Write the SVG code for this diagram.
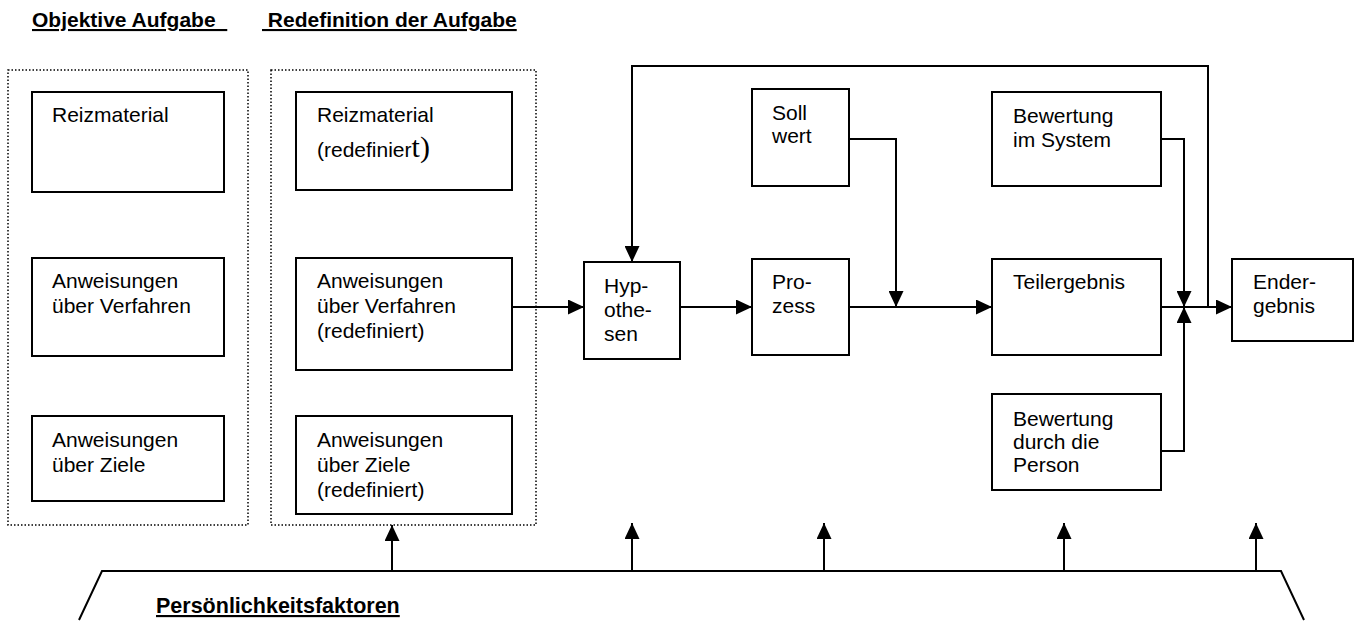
<svg xmlns="http://www.w3.org/2000/svg" width="1360" height="625" viewBox="0 0 1360 625">
<defs>
<style>
.box{fill:#fff;stroke:#000;stroke-width:2}
.dot{fill:none;stroke:#000;stroke-width:1.5;stroke-dasharray:1.5 2}
.ln{fill:none;stroke:#000;stroke-width:2}
.t{font-family:"Liberation Sans",Arial,sans-serif;font-size:21px;fill:#000}
.h{font-family:"Liberation Sans",Arial,sans-serif;font-size:21px;font-weight:bold;fill:#000;text-decoration:underline;white-space:pre}
.ser{font-family:"Liberation Serif","Times New Roman",serif;font-size:30px}
</style>
<marker id="ar" markerUnits="userSpaceOnUse" markerWidth="16" markerHeight="15" refX="16" refY="7.5" orient="auto">
<path d="M0,0 L16,7.5 L0,15 z" fill="#000"/>
</marker>
</defs>
<rect width="1360" height="625" fill="#fff"/>

<g id="headers">
<text class="h" x="32" y="27">Objektive Aufgabe  </text>
<text class="h" x="262" y="27"> Redefinition der Aufgabe</text>
</g>

<g id="group-objektiv">
<rect class="dot" x="8" y="70" width="240" height="455"/>
</g>
<g id="group-redef">
<rect class="dot" x="271" y="70" width="265" height="455"/>
</g>

<g id="n-reiz1"><rect class="box" x="32" y="92" width="192" height="100"/>
<text class="t" x="52" y="122">Reizmaterial</text></g>
<g id="n-verf1"><rect class="box" x="32" y="258" width="192" height="98"/>
<text class="t" x="52" y="288">Anweisungen</text><text class="t" x="52" y="313">über Verfahren</text></g>
<g id="n-ziele1"><rect class="box" x="32" y="416" width="192" height="85"/>
<text class="t" x="52" y="447">Anweisungen</text><text class="t" x="52" y="472">über Ziele</text></g>

<g id="n-reiz2"><rect class="box" x="296" y="92" width="216" height="98"/>
<text class="t" x="317" y="122">Reizmaterial</text>
<text class="t" x="317" y="157">(redefinier<tspan class="ser">t)</tspan></text></g>
<g id="n-verf2"><rect class="box" x="296" y="258" width="216" height="112"/>
<text class="t" x="317" y="288">Anweisungen</text><text class="t" x="317" y="313">über Verfahren</text><text class="t" x="317" y="338">(redefiniert)</text></g>
<g id="n-ziele2"><rect class="box" x="296" y="416" width="216" height="98"/>
<text class="t" x="317" y="447">Anweisungen</text><text class="t" x="317" y="472">über Ziele</text><text class="t" x="317" y="497">(redefiniert)</text></g>

<g id="n-hyp"><rect class="box" x="584" y="262" width="96" height="97"/>
<text class="t" x="604" y="293">Hyp-</text><text class="t" x="604" y="317">othe-</text><text class="t" x="604" y="341">sen</text></g>
<g id="n-soll"><rect class="box" x="752" y="89" width="97" height="97"/>
<text class="t" x="772" y="120">Soll</text><text class="t" x="772" y="143">wert</text></g>
<g id="n-proz"><rect class="box" x="752" y="259" width="97" height="96"/>
<text class="t" x="772" y="289">Pro-</text><text class="t" x="772" y="313">zess</text></g>
<g id="n-bis"><rect class="box" x="992" y="92" width="169" height="94"/>
<text class="t" x="1013" y="123">Bewertung</text><text class="t" x="1013" y="147">im System</text></g>
<g id="n-teil"><rect class="box" x="992" y="259" width="169" height="96"/>
<text class="t" x="1013" y="289">Teilergebnis</text></g>
<g id="n-bdp"><rect class="box" x="992" y="394" width="169" height="96"/>
<text class="t" x="1013" y="426">Bewertung</text><text class="t" x="1013" y="449">durch die</text><text class="t" x="1013" y="472">Person</text></g>
<g id="n-ende"><rect class="box" x="1232" y="259" width="121" height="82"/>
<text class="t" x="1253" y="289">Ender-</text><text class="t" x="1253" y="313">gebnis</text></g>

<g id="n-pers">
<text class="h" x="156" y="613" style="font-size:21.5px">Persönlichkeitsfaktoren</text>
</g>

<g id="connectors">
<path class="ln" d="M512,307 H584" marker-end="url(#ar)"/>
<path class="ln" d="M680,307 H752" marker-end="url(#ar)"/>
<path class="ln" d="M849,307 H992" marker-end="url(#ar)"/>
<path class="ln" d="M849,139 H896 V307" marker-end="url(#ar)"/>
<path class="ln" d="M1161,307 H1232" marker-end="url(#ar)"/>
<path class="ln" d="M1161,139 H1184 V307" marker-end="url(#ar)"/>
<path class="ln" d="M1161,451 H1184 V307" marker-end="url(#ar)"/>
<path class="ln" d="M1208,307 V66 H632 V262" marker-end="url(#ar)"/>
<path class="ln" d="M79,620 L102,571 H1281 L1304,620"/>
<path class="ln" d="M392,571 V525" marker-end="url(#ar)"/>
<path class="ln" d="M632,571 V523" marker-end="url(#ar)"/>
<path class="ln" d="M824,571 V523" marker-end="url(#ar)"/>
<path class="ln" d="M1064,571 V523" marker-end="url(#ar)"/>
<path class="ln" d="M1256,571 V523" marker-end="url(#ar)"/>
</g>
</svg>
